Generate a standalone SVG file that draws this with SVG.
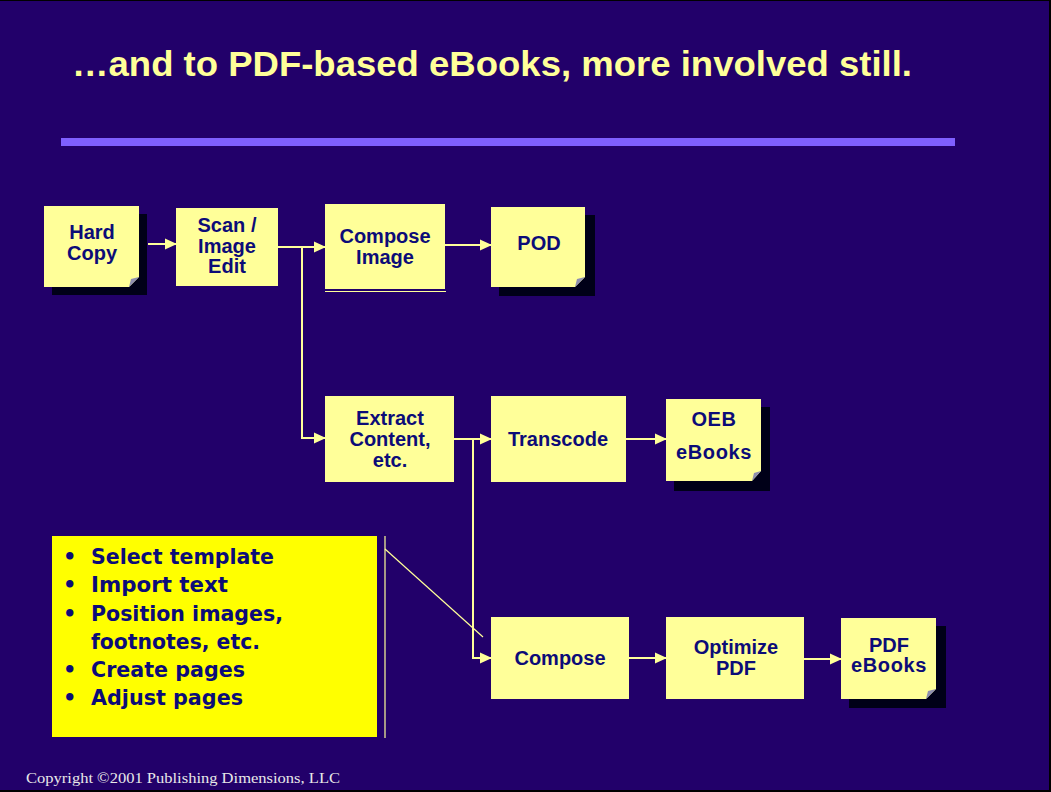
<svg xmlns="http://www.w3.org/2000/svg" width="1051" height="792" viewBox="0 0 1051 792">
  <defs>
    <style>
      .node { fill: #ffff99; }
      .shadow { fill: #000018; }
      .fold { fill: #8e8eb0; }
      .label { font-family: "Liberation Sans", Arial, sans-serif; font-weight: bold; font-size: 20px; fill: #0c0c78; text-anchor: middle; }
      .wide { letter-spacing: 0.6px; }
      .conn { stroke: #ffff99; stroke-width: 2; fill: none; }
      .thin { stroke: #ffff99; stroke-width: 1.2; fill: none; }
      .bullet { font-family: "DejaVu Sans", Verdana, sans-serif; font-weight: bold; font-size: 21px; fill: #0c0c78; }
    </style>
    <marker id="arrow" markerWidth="12" markerHeight="12" refX="11" refY="6" orient="auto" markerUnits="userSpaceOnUse">
      <path d="M0,0.5 L12,6 L0,11.5 Z" fill="#ffff99"/>
    </marker>
  </defs>

  <!-- slide background with thin dark frame -->
  <rect x="0" y="0" width="1051" height="792" fill="#000000"/>
  <rect x="0" y="1" width="1049" height="789" fill="#22006a"/>

  <!-- heading and rule -->
  <text x="72" y="76" font-family="Liberation Sans, Arial, sans-serif" font-weight="bold" font-size="35" fill="#ffff99" textLength="840" lengthAdjust="spacingAndGlyphs">…and to PDF-based eBooks, more involved still.</text>
  <rect x="61" y="138" width="894" height="8" fill="#7f5fff"/>

  <!-- connectors -->
  <g id="connectors">
    <line class="conn" x1="148" y1="244" x2="176" y2="244" marker-end="url(#arrow)"/>
    <line class="conn" x1="278" y1="247" x2="325" y2="247" marker-end="url(#arrow)"/>
    <polyline class="conn" points="302,247 302,438 325,438" marker-end="url(#arrow)"/>
    <line class="conn" x1="445" y1="245" x2="491" y2="245" marker-end="url(#arrow)"/>
    <line class="conn" x1="454" y1="439" x2="491" y2="439" marker-end="url(#arrow)"/>
    <polyline class="conn" points="473,439 473,658 491,658" marker-end="url(#arrow)"/>
    <line class="conn" x1="626" y1="439" x2="666" y2="439" marker-end="url(#arrow)"/>
    <line class="conn" x1="629" y1="658" x2="666" y2="658" marker-end="url(#arrow)"/>
    <line class="conn" x1="804" y1="659" x2="841" y2="659" marker-end="url(#arrow)"/>
    <!-- callout from the task list to Compose -->
    <line class="thin" x1="385" y1="536" x2="385" y2="738"/>
    <line class="thin" x1="385" y1="549" x2="483" y2="637"/>
  </g>

  <g id="hard-copy">
    <rect class="shadow" x="52" y="214" width="95" height="81"/>
    <polygon class="node" points="44,206 139,206 139,277 129,287 44,287"/>
    <polygon class="fold" points="129,287 139,277 131,279"/>
    <text class="label" x="92" y="239">Hard</text>
    <text class="label" x="92" y="260">Copy</text>
  </g>

  <g id="scan-image-edit">
    <rect class="node" x="176" y="208" width="102" height="78"/>
    <text class="label" x="227" y="232">Scan /</text>
    <text class="label" x="227" y="253">Image</text>
    <text class="label" x="227" y="273">Edit</text>
  </g>

  <g id="compose-image">
    <rect class="node" x="325" y="204" width="120" height="85"/>
    <line x1="325" y1="291.5" x2="446" y2="291.5" stroke="#ffff99" stroke-width="1"/>
    <text class="label" x="385" y="243">Compose</text>
    <text class="label" x="385" y="264">Image</text>
  </g>

  <g id="pod">
    <rect class="shadow" x="499" y="215" width="96" height="81"/>
    <polygon class="node" points="491,207 585,207 585,277 575,287 491,287"/>
    <polygon class="fold" points="575,287 585,277 577,279"/>
    <text class="label" x="539" y="250">POD</text>
  </g>

  <g id="extract-content">
    <rect class="node" x="325" y="396" width="129" height="86"/>
    <text class="label" x="390" y="425">Extract</text>
    <text class="label" x="390" y="446">Content,</text>
    <text class="label" x="390" y="467">etc.</text>
  </g>

  <g id="transcode">
    <rect class="node" x="491" y="396" width="135" height="86"/>
    <text class="label" x="558" y="446">Transcode</text>
  </g>

  <g id="oeb-ebooks">
    <rect class="shadow" x="674" y="407" width="96" height="84"/>
    <polygon class="node" points="666,399 761,399 761,471 752,481 666,481"/>
    <polygon class="fold" points="752,481 761,471 754,473"/>
    <text class="label wide" x="714" y="426">OEB</text>
    <text class="label wide" x="714" y="459">eBooks</text>
  </g>

  <g id="compose">
    <rect class="node" x="491" y="617" width="138" height="82"/>
    <text class="label" x="560" y="665">Compose</text>
  </g>

  <g id="optimize-pdf">
    <rect class="node" x="666" y="617" width="138" height="82"/>
    <text class="label" x="736" y="654">Optimize</text>
    <text class="label" x="736" y="675">PDF</text>
  </g>

  <g id="pdf-ebooks">
    <rect class="shadow" x="849" y="626" width="97" height="82"/>
    <polygon class="node" points="841,618 936,618 936,689 926,699 841,699"/>
    <polygon class="fold" points="926,699 936,689 928,691"/>
    <text class="label" x="889" y="652">PDF</text>
    <text class="label wide" x="889" y="672">eBooks</text>
  </g>

  <g id="task-list">
    <rect x="52" y="536" width="325" height="201" fill="#ffff00"/>
    <g class="bullet">
      <text x="63" y="564">•</text>
      <text x="91" y="564" textLength="183" lengthAdjust="spacingAndGlyphs">Select template</text>
      <text x="63" y="592">•</text>
      <text x="91" y="592" textLength="137" lengthAdjust="spacingAndGlyphs">Import text</text>
      <text x="63" y="621">•</text>
      <text x="91" y="621" textLength="192" lengthAdjust="spacingAndGlyphs">Position images,</text>
      <text x="91" y="649" textLength="169" lengthAdjust="spacingAndGlyphs">footnotes, etc.</text>
      <text x="63" y="677">•</text>
      <text x="91" y="677" textLength="154" lengthAdjust="spacingAndGlyphs">Create pages</text>
      <text x="63" y="705">•</text>
      <text x="91" y="705" textLength="152" lengthAdjust="spacingAndGlyphs">Adjust pages</text>
    </g>
  </g>

  <text x="26" y="783" font-family="Liberation Serif, Times New Roman, serif" font-size="15" fill="#e8e8e8" textLength="314" lengthAdjust="spacingAndGlyphs">Copyright ©2001 Publishing Dimensions, LLC</text>
</svg>
